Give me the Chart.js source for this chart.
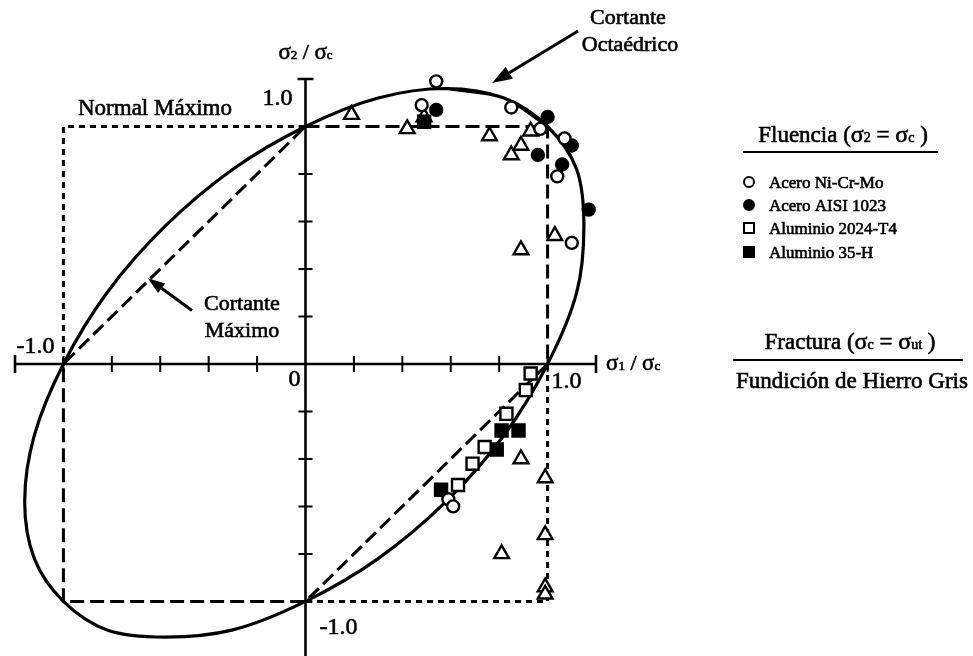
<!DOCTYPE html>
<html lang="es">
<head>
<meta charset="UTF-8">
<title>Fluencia y fractura biaxial</title>
<script src="https://cdn.jsdelivr.net/npm/chart.js"></script>
<style>
  body { margin: 0; background: #fff; }
  canvas { display: block; }
</style>
</head>
<body>
<canvas id="criterios" width="973" height="656"></canvas>
<script>
// ensayos: [sigma1/sigma_c, sigma2/sigma_c]
var aceroNiCrMo = [[0.54, 1.19], [0.48, 1.09], [0.85, 1.08], [0.97, 0.99], [1.07, 0.95],
                   [1.04, 0.79], [1.10, 0.51], [0.59, -0.57], [0.61, -0.60]];
var aceroAISI1023 = [[0.54, 1.07], [1.00, 1.04], [0.96, 0.88], [1.10, 0.92], [1.06, 0.84], [1.17, 0.65]];
var aluminio2024 = [[0.93, -0.04], [0.91, -0.11], [0.83, -0.21], [0.74, -0.35], [0.69, -0.42], [0.63, -0.51]];
var aluminio35H = [[0.49, 1.02], [0.81, -0.28], [0.88, -0.28], [0.79, -0.36], [0.56, -0.53]];
var hierroGris = [[0.19, 1.05], [0.42, 0.99], [0.49, 1.04], [0.76, 0.96], [0.85, 0.88], [0.89, 0.92],
                  [0.93, 0.98], [1.03, 0.54], [0.89, 0.48], [0.89, -0.40], [0.99, -0.48], [0.99, -0.72],
                  [0.81, -0.80], [0.99, -0.94], [0.99, -0.97]];

// criterios de falla
var cortanteOctaedrico = [[0.58, 1.16], [0.82, 1.12], [1.00, 1.00], [1.12, 0.82], [1.15, 0.58], [1.12, 0.30],
                          [1.00, 0.00], [0.82, -0.30], [0.58, -0.58], [0.30, -0.82], [0.00, -1.00],
                          [-0.30, -1.12], [-0.58, -1.15], [-0.82, -1.12], [-1.00, -1.00], [-1.12, -0.82],
                          [-1.16, -0.58], [-1.12, -0.30], [-1.00, 0.00], [-0.82, 0.30], [-0.58, 0.58],
                          [-0.30, 0.82], [0.00, 1.00], [0.30, 1.12], [0.58, 1.16], [0.82, 1.12], [1.00, 1.00]];
var cortanteMaximo = [[0, 1], [1, 1], [1, 0], [0, -1], [-1, -1], [-1, 0], [0, 1]];
var normalMaximoII = [[-1, 0], [-1, 1], [0, 1]];
var normalMaximoIV = [[1, 0], [1, -1], [0, -1]];

var ejeTicks = [-1.0, -0.8, -0.6, -0.4, -0.2, 0.2, 0.4, 0.6, 0.8, 1.0];
var ejeMin = -1.2, ejeMax = 1.2;

var serif = '"Liberation Serif", "Times New Roman", serif';

function pts(arr) {
  return arr.map(function (p) { return { x: p[0], y: p[1] }; });
}

function marker(data, style, fill, r) {
  return {
    data: pts(data), pointStyle: style, pointRadius: r, pointBorderWidth: 2.4,
    pointBackgroundColor: fill, pointBorderColor: '#000', showLine: false, clip: false
  };
}

function trazo(data, dash, width) {
  return {
    data: pts(data), showLine: true, borderColor: '#000', borderWidth: width,
    borderDash: dash, pointRadius: 0, tension: 0, fill: false, clip: false
  };
}

// texto con subindices: partes [texto, tamaño, desplazamiento]
function rich(ctx, parts, x, y, align) {
  var w = 0;
  parts.forEach(function (p) {
    ctx.font = p[1] + 'px ' + serif;
    w += ctx.measureText(p[0]).width;
  });
  var cx = align === 'center' ? x - w / 2 : (align === 'right' ? x - w : x);
  ctx.textAlign = 'left';
  ctx.textBaseline = 'alphabetic';
  ctx.lineWidth = 0.6;
  parts.forEach(function (p) {
    ctx.font = p[1] + 'px ' + serif;
    ctx.fillText(p[0], cx, y + (p[2] || 0));
    ctx.strokeText(p[0], cx, y + (p[2] || 0));
    cx += ctx.measureText(p[0]).width;
  });
}

function flecha(ctx, x0, y0, x1, y1, len, half) {
  var a = Math.atan2(y1 - y0, x1 - x0);
  var bx = x1 - Math.cos(a) * len, by = y1 - Math.sin(a) * len;
  ctx.beginPath();
  ctx.moveTo(x0, y0);
  ctx.lineTo(bx, by);
  ctx.lineWidth = 3;
  ctx.stroke();
  ctx.beginPath();
  ctx.moveTo(x1, y1);
  ctx.lineTo(bx + Math.sin(a) * half, by - Math.cos(a) * half);
  ctx.lineTo(bx - Math.sin(a) * half, by + Math.cos(a) * half);
  ctx.closePath();
  ctx.fill();
}

var ejes = {
  id: 'ejes',
  beforeDatasetsDraw: function (chart) {
    var ctx = chart.ctx, xs = chart.scales.x, ys = chart.scales.y;
    var x0 = xs.getPixelForValue(0), y0 = ys.getPixelForValue(0);
    var xl = xs.getPixelForValue(ejeMin), xr = xs.getPixelForValue(ejeMax);
    var yt = ys.getPixelForValue(ejeMax), yb = chart.height;
    ctx.save();
    ctx.strokeStyle = '#000';
    ctx.lineWidth = 2.6;
    ctx.beginPath();
    ctx.moveTo(xl, y0); ctx.lineTo(xr, y0);
    ctx.moveTo(x0, yt); ctx.lineTo(x0, yb);
    // remates
    ctx.moveTo(xl, y0 - 9); ctx.lineTo(xl, y0 + 9);
    ctx.moveTo(xr, y0 - 9); ctx.lineTo(xr, y0 + 9);
    ctx.moveTo(x0 - 8, yt); ctx.lineTo(x0 + 8, yt);
    ctx.stroke();
    ctx.lineWidth = 2;
    ctx.beginPath();
    ejeTicks.forEach(function (v) {
      var px = xs.getPixelForValue(v), py = ys.getPixelForValue(v);
      ctx.moveTo(px, y0 - 8); ctx.lineTo(px, y0 + 8);
      ctx.moveTo(x0 - 7, py); ctx.lineTo(x0 + 7, py);
    });
    ctx.stroke();
    ctx.restore();
  },
  afterDatasetsDraw: function (chart) {
    var ctx = chart.ctx, xs = chart.scales.x, ys = chart.scales.y;
    var X = function (v) { return xs.getPixelForValue(v); };
    var Y = function (v) { return ys.getPixelForValue(v); };
    ctx.save();
    ctx.fillStyle = '#000';
    ctx.strokeStyle = '#000';

    // valores de los ejes
    rich(ctx, [['1.0', 24]], X(0) - 13, Y(1.0) - 21, 'right');
    rich(ctx, [['-1.0', 24]], X(0) + 14, Y(-1.0) + 33, 'left');
    rich(ctx, [['0', 24]], X(0) - 11, Y(0) + 22, 'center');
    rich(ctx, [['-1.0', 24]], X(-1.0) - 9, Y(0) - 11, 'right');
    rich(ctx, [['1.0', 24]], X(1.0) + 4, Y(0) + 24, 'left');

    // titulos de los ejes
    rich(ctx, [['\u03c3', 23], ['2', 13], [' / ', 22], ['\u03c3', 23], ['c', 13]], X(0), 59, 'center');
    rich(ctx, [['\u03c3', 23], ['1', 13], [' / ', 22], ['\u03c3', 23], ['c', 13]], X(ejeMax) + 10, Y(0) + 6, 'left');

    // criterios
    rich(ctx, [['Normal M\u00e1ximo', 23]], 78, 115, 'left');
    rich(ctx, [['Cortante', 22]], 242, 310, 'center');
    rich(ctx, [['M\u00e1ximo', 22]], 242, 337, 'center');
    rich(ctx, [['Cortante', 22]], 628, 24, 'center');
    rich(ctx, [['Octa\u00e9drico', 22]], 630, 51, 'center');
    flecha(ctx, X(1.126), Y(1.402), X(0.771), Y(1.183), 20, 7);
    flecha(ctx, X(-0.469), Y(0.225), X(-0.651), Y(0.361), 17, 6);

    // leyenda
    rich(ctx, [['Fluencia (', 23], ['\u03c3', 24], ['2', 14], [' = ', 23], ['\u03c3', 24], ['c', 14], [' )', 23]], 843, 142, 'center');
    ctx.lineWidth = 2;
    ctx.beginPath();
    ctx.moveTo(743, 152); ctx.lineTo(938, 152);
    ctx.moveTo(733, 360); ctx.lineTo(963, 360);
    ctx.stroke();
    var items = ['Acero Ni-Cr-Mo', 'Acero AISI 1023', 'Aluminio 2024-T4', 'Aluminio 35-H'];
    var yy = [182, 205, 228, 252];
    items.forEach(function (t, i) {
      var mx = 749, my = yy[i];
      ctx.lineWidth = 2;
      ctx.beginPath();
      if (i < 2) ctx.arc(mx, my, 5, 0, Math.PI * 2);
      else ctx.rect(mx - 5, my - 5, 10, 10);
      ctx.fillStyle = (i % 2) ? '#000' : '#fff';
      ctx.fill();
      ctx.stroke();
      ctx.fillStyle = '#000';
      rich(ctx, [[t, 17]], 769, my + 6, 'left');
    });
    rich(ctx, [['Fractura (', 23], ['\u03c3', 24], ['c', 14], [' = ', 23], ['\u03c3', 24], ['ut', 14], [' )', 23]], 850, 349, 'center');
    rich(ctx, [['Fundici\u00f3n de Hierro Gris', 23]], 852, 388, 'center');
    ctx.restore();
  }
};

new Chart(document.getElementById('criterios'), {
  type: 'scatter',
  data: {
    datasets: [
      marker(aceroNiCrMo, 'circle', '#fff', 6),
      marker(aceroAISI1023, 'circle', '#000', 6),
      marker(aluminio2024, 'rect', '#fff', 8.5),
      marker(aluminio35H, 'rect', '#000', 8.5),
      marker(hierroGris, 'triangle', '#fff', 8.5),
      {
        data: pts(cortanteOctaedrico), showLine: true, borderColor: '#000', borderWidth: 3.2,
        pointRadius: 0, tension: 0.33, fill: false, clip: false
      },
      trazo(cortanteMaximo, [14, 6], 3),
      trazo(normalMaximoII, [6, 5], 3),
      trazo(normalMaximoIV, [6, 5], 3)
    ]
  },
  options: {
    responsive: false,
    animation: false,
    layout: { padding: { left: 15, right: 377, top: 79, bottom: 0 } },
    scales: {
      x: { type: 'linear', min: ejeMin, max: ejeMax, display: false },
      y: { type: 'linear', min: -1.184, max: ejeMax, display: false }
    },
    plugins: { legend: { display: false }, tooltip: { enabled: false } }
  },
  plugins: [ejes]
});
</script>
</body>
</html>
